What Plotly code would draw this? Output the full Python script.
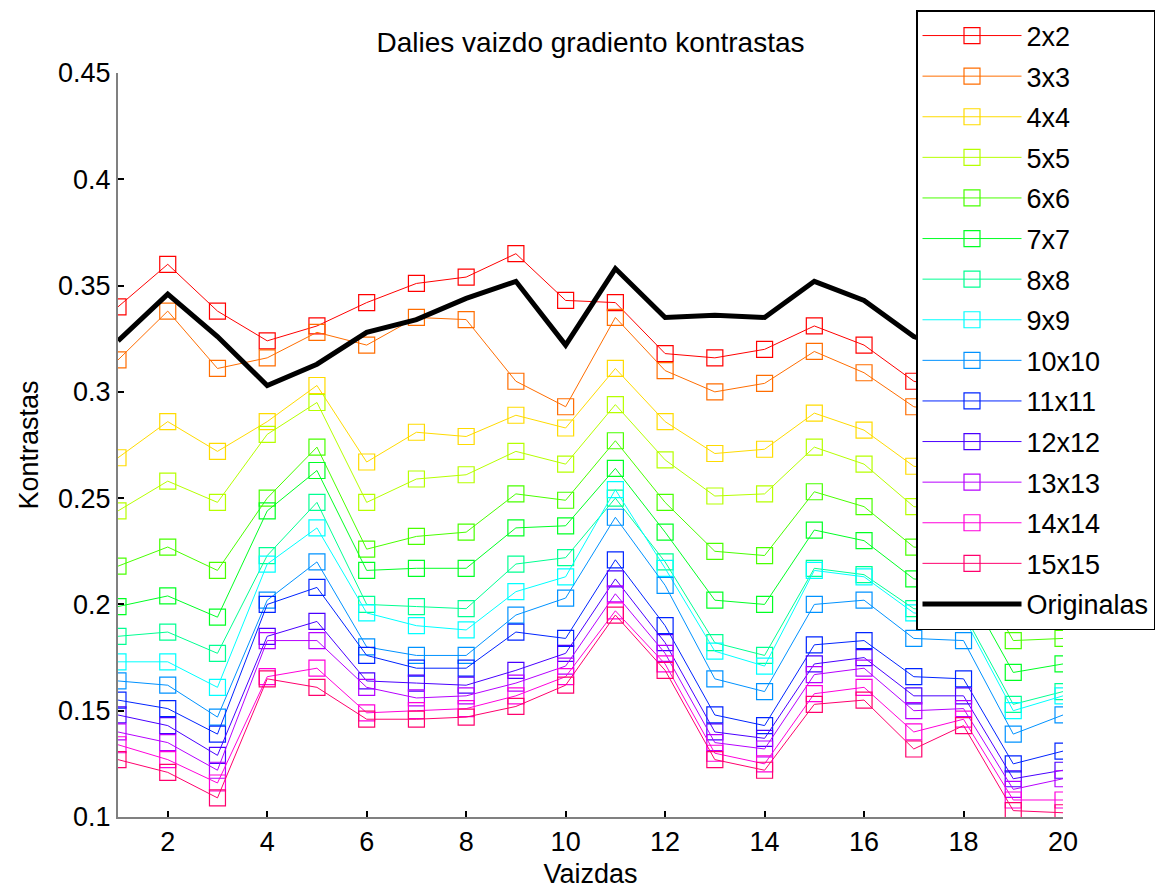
import plotly.graph_objects as go

x = list(range(1, 21))

names = ["2x2", "3x3", "4x4", "5x5", "6x6", "7x7", "8x8", "9x9", "10x10",
         "11x11", "12x12", "13x13", "14x14", "15x15"]

s2 = [0.340, 0.360, 0.338, 0.324, 0.331, 0.342, 0.351, 0.354, 0.365, 0.343,
      0.342, 0.318, 0.316, 0.320, 0.331, 0.322, 0.305, 0.300, 0.272, 0.276]
s3 = [0.315, 0.338, 0.311, 0.316, 0.328, 0.322, 0.335, 0.334, 0.305, 0.293,
      0.335, 0.310, 0.300, 0.304, 0.319, 0.309, 0.293, 0.290, 0.256, 0.260]
s4 = [0.269, 0.286, 0.272, 0.286, 0.303, 0.267, 0.281, 0.279, 0.289, 0.283,
      0.311, 0.286, 0.271, 0.273, 0.290, 0.282, 0.265, 0.262, 0.226, 0.230]
s5 = [0.244, 0.258, 0.248, 0.280, 0.295, 0.248, 0.259, 0.261, 0.272, 0.266,
      0.294, 0.268, 0.251, 0.252, 0.274, 0.266, 0.246, 0.244, 0.205, 0.210]
s6 = [0.218, 0.227, 0.216, 0.250, 0.274, 0.226, 0.232, 0.234, 0.252, 0.249,
      0.277, 0.248, 0.225, 0.223, 0.253, 0.246, 0.227, 0.225, 0.183, 0.184]
s7 = [0.199, 0.204, 0.194, 0.244, 0.263, 0.216, 0.217, 0.217, 0.236, 0.237,
      0.264, 0.234, 0.202, 0.200, 0.235, 0.230, 0.212, 0.210, 0.168, 0.172]
s8 = [0.185, 0.187, 0.177, 0.223, 0.248, 0.200, 0.199, 0.198, 0.219, 0.222,
      0.250, 0.220, 0.182, 0.176, 0.217, 0.214, 0.198, 0.196, 0.153, 0.159]
s9 = [0.173, 0.173, 0.161, 0.219, 0.236, 0.196, 0.190, 0.188, 0.206, 0.213,
      0.254, 0.217, 0.178, 0.171, 0.216, 0.213, 0.196, 0.194, 0.150, 0.157]
s10 = [0.164, 0.162, 0.147, 0.202, 0.220, 0.180, 0.176, 0.176, 0.195, 0.203,
       0.241, 0.209, 0.165, 0.159, 0.200, 0.202, 0.184, 0.183, 0.139, 0.148]
s11 = [0.155, 0.151, 0.139, 0.200, 0.208, 0.176, 0.170, 0.170, 0.187, 0.184,
       0.221, 0.190, 0.148, 0.143, 0.181, 0.183, 0.166, 0.165, 0.125, 0.131]
s12 = [0.148, 0.143, 0.129, 0.185, 0.192, 0.164, 0.163, 0.162, 0.169, 0.177,
       0.212, 0.182, 0.140, 0.137, 0.172, 0.175, 0.157, 0.157, 0.118, 0.122]
s13 = [0.140, 0.135, 0.122, 0.183, 0.183, 0.161, 0.156, 0.157, 0.163, 0.171,
       0.205, 0.177, 0.135, 0.132, 0.167, 0.170, 0.150, 0.151, 0.113, 0.118]
s14 = [0.134, 0.127, 0.116, 0.166, 0.170, 0.149, 0.150, 0.151, 0.157, 0.166,
       0.197, 0.172, 0.130, 0.125, 0.158, 0.161, 0.140, 0.146, 0.108, 0.108]
s15 = [0.127, 0.121, 0.109, 0.165, 0.161, 0.146, 0.146, 0.147, 0.152, 0.162,
       0.195, 0.169, 0.127, 0.122, 0.153, 0.155, 0.132, 0.143, 0.103, 0.102]
original = [0.324, 0.346, 0.326, 0.303, 0.313, 0.328, 0.334, 0.344, 0.352, 0.322,
            0.358, 0.335, 0.336, 0.335, 0.352, 0.343, 0.326, 0.318, 0.300, 0.310]

series = [s2, s3, s4, s5, s6, s7, s8, s9, s10, s11, s12, s13, s14, s15]
colors = ["#ff0000", "#ff6d00", "#ffdb00", "#b6ff00", "#49ff00", "#00ff24",
          "#00ff92", "#00ffff", "#0092ff", "#0024ff", "#4900ff", "#b600ff",
          "#ff00db", "#ff006d"]

xtick_vals = [2, 4, 6, 8, 10, 12, 14, 16, 18, 20]
ytick_vals = [0.1, 0.15, 0.2, 0.25, 0.3, 0.35, 0.4, 0.45]
ytick_text = ["0.1", "0.15", "0.2", "0.25", "0.3", "0.35", "0.4", "0.45"]

FONT = "Liberation Sans, Arial, sans-serif"

fig = go.Figure()
for name, ys, col in zip(names, series, colors):
    fig.add_trace(go.Scatter(
        x=x, y=ys, name=name, mode="lines+markers", legendgroup=name,
        line=dict(color=col, width=1),
        marker=dict(symbol="square-open", size=16, color=col, line=dict(width=1.2, color=col)),
    ))
fig.add_trace(go.Scatter(
    x=x, y=original, name="Originalas", mode="lines", legendgroup="orig",
    line=dict(color="black", width=5),
))

fig.update_layout(
    width=1176, height=893,
    margin=dict(l=118, r=113, t=73, b=76, autoexpand=False),
    paper_bgcolor="white", plot_bgcolor="white",
    font=dict(family=FONT, size=26, color="black"),
    title=dict(text="Dalies vaizdo gradiento kontrastas", x=(118 + 1063) / 2 / 1176, xanchor="center",
               y=1 - 42 / 893, yanchor="middle", yref="container",
               font=dict(family=FONT, size=28, color="black")),
    xaxis=dict(range=[1, 20], tickvals=xtick_vals, ticks="inside", ticklen=6, tickwidth=1.5,
               tickcolor="black", showline=True, linecolor="#808080", linewidth=2,
               showgrid=False, zeroline=False, tickfont=dict(size=27), automargin=False,
               title=dict(text="Vaizdas", standoff=8, font=dict(size=27))),
    yaxis=dict(range=[0.1, 0.45], tickvals=ytick_vals, ticktext=ytick_text, ticks="inside",
               ticklen=6, tickwidth=1.5, tickcolor="black", showline=True, linecolor="#808080",
               linewidth=2, showgrid=False, zeroline=False, tickfont=dict(size=27), automargin=False,
               title=dict(text="Kontrastas", standoff=12, font=dict(size=27))),
    legend=dict(x=916 / 1176, xref="container", xanchor="left",
                y=1 - 10 / 893, yref="container", yanchor="top",
                bgcolor="white", bordercolor="black", borderwidth=1.5,
                font=dict(family=FONT, size=27, color="black"),
                itemwidth=99, tracegroupgap=2.5, maxheight=880),
)

fig.write_html("out.html")
